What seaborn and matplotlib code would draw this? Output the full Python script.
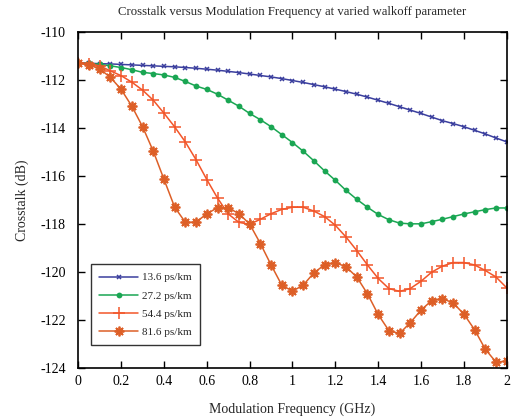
import numpy as np
import pandas as pd
import matplotlib
matplotlib.use("Agg")
import matplotlib.pyplot as plt
import seaborn as sns

freq = [round(0.05 * i, 2) for i in range(41)]

s136 = [-111.30, -111.31, -111.33, -111.34, -111.36, -111.38, -111.40, -111.42, -111.44, -111.46,
        -111.49, -111.52, -111.56, -111.60, -111.65, -111.70, -111.76, -111.82, -111.88, -111.95,
        -112.03, -112.11, -112.20, -112.29, -112.39, -112.49, -112.60, -112.72, -112.85, -112.98,
        -113.12, -113.26, -113.40, -113.55, -113.70, -113.82, -113.95, -114.10, -114.25, -114.42,
        -114.58]

s272 = [-111.30, -111.32, -111.36, -111.42, -111.49, -111.58, -111.69, -111.74, -111.80, -111.90,
        -112.07, -112.26, -112.40, -112.60, -112.85, -113.10, -113.40, -113.66, -113.95, -114.28,
        -114.61, -114.97, -115.37, -115.79, -116.18, -116.60, -116.97, -117.30, -117.60, -117.82,
        -117.96, -117.99, -117.99, -117.90, -117.80, -117.69, -117.58, -117.49, -117.40, -117.33,
        -117.33]

s544 = [-111.30, -111.33, -111.42, -111.63, -111.83, -112.10, -112.43, -112.85, -113.39, -113.96,
        -114.59, -115.33, -116.15, -116.92, -117.58, -117.93, -118.01, -117.80, -117.57, -117.39,
        -117.30, -117.30, -117.46, -117.69, -118.05, -118.54, -119.10, -119.70, -120.26, -120.68,
        -120.80, -120.68, -120.38, -120.00, -119.75, -119.60, -119.60, -119.70, -119.93, -120.20,
        -120.65]

s816 = [-111.30, -111.38, -111.55, -111.90, -112.40, -113.10, -113.95, -114.97, -116.14, -117.30,
        -117.93, -117.92, -117.57, -117.32, -117.32, -117.57, -118.00, -118.81, -119.70, -120.54,
        -120.79, -120.54, -120.03, -119.69, -119.60, -119.78, -120.20, -120.90, -121.76, -122.43,
        -122.55, -122.10, -121.58, -121.18, -121.10, -121.28, -121.74, -122.39, -123.20, -123.74,
        -123.70]

labels = ["13.6 ps/km", "27.2 ps/km", "54.4 ps/km", "81.6 ps/km"]
xticks = [0, 0.2, 0.4, 0.6, 0.8, 1, 1.2, 1.4, 1.6, 1.8, 2]
yticks = [-110, -112, -114, -116, -118, -120, -122, -124]

sns.set_theme(style="ticks")
plt.rcParams['font.family'] = ['Liberation Serif', 'DejaVu Serif']

fig = plt.figure(figsize=(5.17, 4.2), dpi=100)
ax = fig.add_axes([0.1515, 0.123, 0.8285, 0.8015])

colors = ["#3b3f9e", "#1aa653", "#f2562a", "#dd5f27"]
styles = [
    dict(marker="x", markersize=3.5, markeredgewidth=1.1, linewidth=1.1),
    dict(marker="o", markersize=4.2, markeredgewidth=0, linewidth=1.1),
    dict(marker="+", markersize=8.5, markeredgewidth=1.1, linewidth=1.1),
    dict(marker=(8, 2, 0), markersize=7, markeredgewidth=1.3, linewidth=1.1),
]
for vals, lab, col, st in zip([s136, s272, s544, s816], labels, colors, styles):
    df = pd.DataFrame({"f": freq, "v": vals})
    sns.lineplot(data=df, x="f", y="v", ax=ax, label=lab, color=col,
                 markeredgecolor=col, markerfacecolor=col, **st)

ax.set_xlim(0, 2)
ax.set_ylim(-124, -110)
ax.set_xticks(xticks)
ax.set_xticklabels([f"{t:g}" for t in xticks])
ax.set_yticks(yticks)
ax.set_yticklabels([f"{t:g}" for t in yticks])
ax.tick_params(direction="in", top=True, right=True, length=5, width=1, labelsize=10, colors="black")
ax.tick_params(axis="x", pad=5)
ax.tick_params(axis="y", pad=9)
for sp in ax.spines.values():
    sp.set_linewidth(1.2)
    sp.set_color("black")
ax.set_xlabel("Modulation Frequency (GHz)", fontsize=10, labelpad=10)
ax.set_ylabel("Crosstalk (dB)", fontsize=10, labelpad=8)
ax.set_title("Crosstalk versus Modulation Frequency at varied walkoff parameter", fontsize=9.2, pad=12)

leg = ax.legend(loc="lower left", bbox_to_anchor=(0.029, 0.069), borderaxespad=0,
                fontsize=8, frameon=True, fancybox=False, edgecolor="black",
                handlelength=3.5, handletextpad=0.4, labelspacing=0.75, borderpad=0.75)
leg.get_frame().set_linewidth(1.0)

fig.savefig("out.png", dpi=100)
